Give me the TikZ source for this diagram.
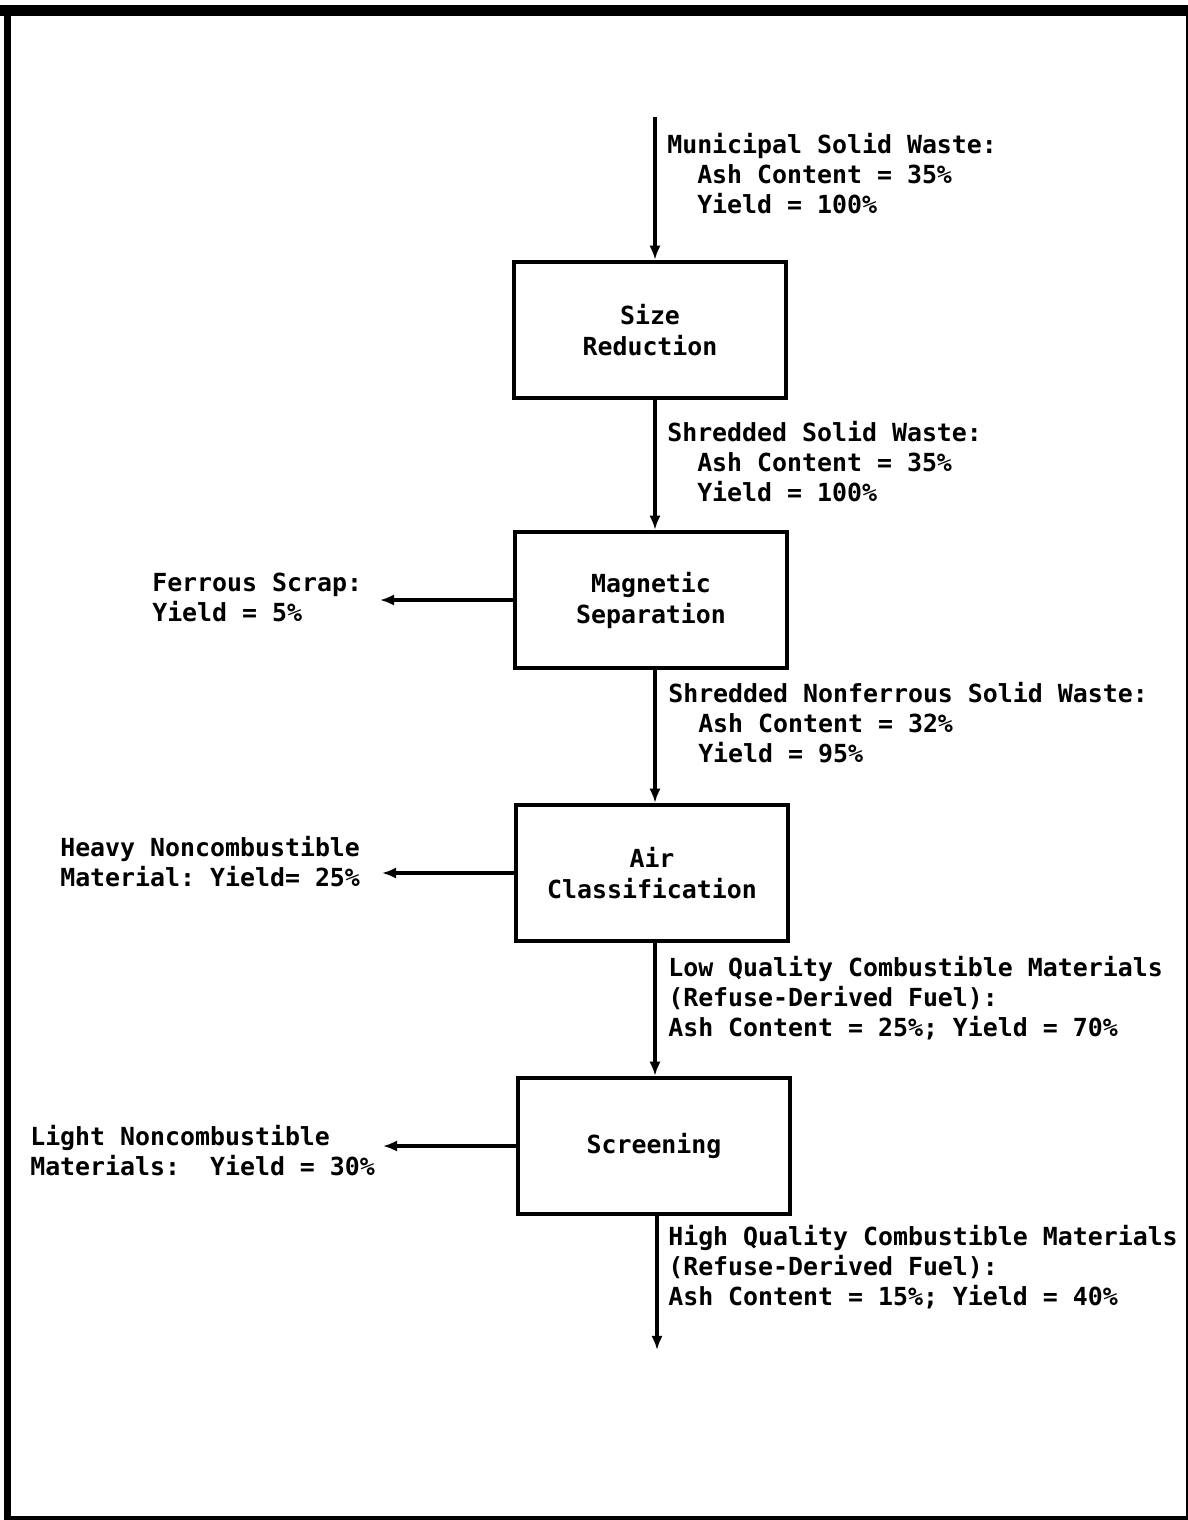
\documentclass[tikz,border=0pt]{standalone}
\usepackage{fontspec}
\setmonofont{DejaVu Sans Mono}
\usepackage{tikz}
\usetikzlibrary{arrows.meta,positioning}
\tikzstyle{processBox} = [
  shape=rectangle,
  draw,
  line width=3.2pt,
  align=center,
  minimum width=6.8cm,
  minimum height=3.4cm,
  font=\ttfamily\bfseries\fontsize{17.7}{22}\selectfont]
\tikzstyle{streamText} = [
  align=left,
  inner sep=0pt,
  font=\ttfamily\bfseries\fontsize{17.7}{21.3}\selectfont]
\tikzstyle{flowArrow} = [
  line width=2.8pt,
  -{Latex[length=10pt,width=8pt]}]
\newcommand{\ind}{\hspace*{1.204em}}

\begin{document}
\begin{tikzpicture}[x=0.025cm,y=-0.025cm]
  \useasboundingbox (0,0) rectangle (1188,1520);
  % frame
  \fill (0,5) rectangle (1188,16);
  \fill (4,5) rectangle (11,1520);
  \fill (4,1516) rectangle (1188,1520);
  \fill (1186,5) rectangle (1188,1520);
  % stages
  \node[processBox] (sizeRed) at (650,330) {Size\\Reduction};
  \node[processBox] (magSep) at (651,600) {Magnetic\\Separation};
  \node[processBox] (airCls) at (652,873) {Air\\Classification};
  \node[processBox] (screen) at (654,1146) {Screening};
  % free ends
  \coordinate (mswIn) at (655,117);
  \coordinate (hqOut) at (657,1350);
  \coordinate (ferrousOut) at (380,600);
  \coordinate (heavyOut) at (382,873);
  \coordinate (lightOut) at (383,1146);
  % flows
  \draw[flowArrow] (mswIn) -- (mswIn |- sizeRed.north);
  \draw[flowArrow] (sizeRed.south -| mswIn) -- (magSep.north -| mswIn);
  \draw[flowArrow] (magSep.south -| mswIn) -- (airCls.north -| mswIn);
  \draw[flowArrow] (airCls.south -| mswIn) -- (screen.north -| mswIn);
  \draw[flowArrow] (screen.south -| hqOut) -- (hqOut);
  \draw[flowArrow] (magSep.west) -- (ferrousOut);
  \draw[flowArrow] (airCls.west) -- (heavyOut);
  \draw[flowArrow] (screen.west) -- (lightOut);
  % stream labels
  \node[streamText, anchor=north west] (mswLbl) at (667,133) {
    Municipal Solid Waste:\\
    \ind Ash Content = 35\%\\
    \ind Yield = 100\%};
  \node[streamText, anchor=north west] (shredLbl) at (667,421) {
    Shredded Solid Waste:\\
    \ind Ash Content = 35\%\\
    \ind Yield = 100\%};
  \node[streamText, anchor=north west] (nonfLbl) at (668,682) {
    Shredded Nonferrous Solid Waste:\\
    \ind Ash Content = 32\%\\
    \ind Yield = 95\%};
  \node[streamText, anchor=north west] (lowLbl) at (668,956) {
    Low Quality Combustible Materials\\
    (Refuse-Derived Fuel):\\
    Ash Content = 25\%; Yield = 70\%};
  \node[streamText, anchor=north west] (highLbl) at (668,1225) {
    High Quality Combustible Materials\\
    (Refuse-Derived Fuel):\\
    Ash Content = 15\%; Yield = 40\%};
  \node[streamText, anchor=north west] (ferrousLbl) at (152,573) {
    Ferrous Scrap:\\
    Yield = 5\%};
  \node[streamText, anchor=north west] (heavyLbl) at (60,836) {
    Heavy Noncombustible\\
    Material: Yield= 25\%};
  \node[streamText, anchor=north west] (lightLbl) at (30,1125) {
    Light Noncombustible\\
    Materials:\ \ Yield = 30\%};
\end{tikzpicture}
\end{document}
